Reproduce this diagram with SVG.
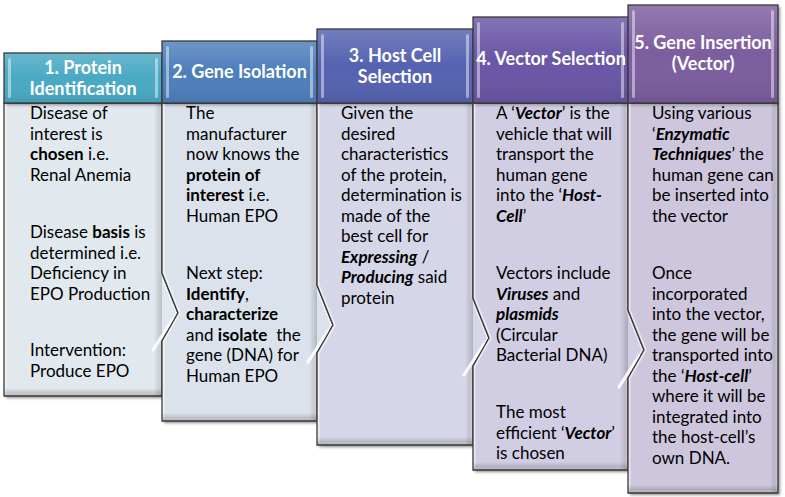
<svg xmlns="http://www.w3.org/2000/svg" xmlns:xlink="http://www.w3.org/1999/xlink" width="785" height="497" viewBox="0 0 785 497">
<defs>
<style>
.t{font-family:Lato,"Open Sans","Liberation Sans",sans-serif;font-size:17px;fill:#000}
.h{font-family:Lato,"Open Sans","Liberation Sans",sans-serif;font-size:18px;font-weight:700;fill:#fff;text-anchor:middle}
.b{font-weight:700}
.bi{font-weight:700;font-style:italic}
.edge{fill:none;stroke:#3a3a3a;stroke-width:1.3;stroke-linejoin:miter}
.inner{fill:none;stroke:#fff;stroke-width:5;opacity:.55}
.strip{fill:#fff;opacity:.45}
.shine{fill:url(#hg)}
.bot{fill:url(#bg)}
.rgt{fill:url(#rg)}
.hl{fill:none;stroke:#fff;stroke-width:3.2;stroke-linecap:round;opacity:.9;filter:url(#soft)}
.sh{filter:url(#ds)}
</style>
<filter id="ds" x="-10%" y="-10%" width="125%" height="125%">
<feDropShadow dx="2" dy="2" stdDeviation="1.5" flood-color="#000" flood-opacity="0.45"/>
</filter>
<filter id="soft" x="-50%" y="-50%" width="200%" height="200%"><feGaussianBlur stdDeviation="0.6"/></filter>
<linearGradient id="hg" x1="0" y1="0" x2="0" y2="1">
<stop offset="0" stop-color="#fff" stop-opacity="0.18"/>
<stop offset="0.5" stop-color="#fff" stop-opacity="0"/>
<stop offset="1" stop-color="#000" stop-opacity="0.08"/>
</linearGradient>
<linearGradient id="bg" x1="0" y1="0" x2="0" y2="1">
<stop offset="0" stop-color="#000" stop-opacity="0"/>
<stop offset="1" stop-color="#000" stop-opacity="0.25"/>
</linearGradient>
<linearGradient id="rg" x1="0" y1="0" x2="1" y2="0">
<stop offset="0" stop-color="#000" stop-opacity="0"/>
<stop offset="1" stop-color="#000" stop-opacity="0.18"/>
</linearGradient>
<path id="b1" d="M4,103 H162 V273 L178,313 L162,341 V396 H4 Z"/>
<path id="b2" d="M162,103 H317 V285 L333,325 L317,353 V421 H162 V341 L178,313 L162,273 Z"/>
<path id="b3" d="M317,103 H473 V298 L489,338 L473,366 V445 H317 V353 L333,325 L317,285 Z"/>
<path id="b4" d="M473,103 H628 V310 L644,350 L628,378 V470 H473 V366 L489,338 L473,298 Z"/>
<path id="b5" d="M628,103 H778 V493 H628 V378 L644,350 L628,310 Z"/>
<clipPath id="c1"><use xlink:href="#b1"/></clipPath>
<clipPath id="c2"><use xlink:href="#b2"/></clipPath>
<clipPath id="c3"><use xlink:href="#b3"/></clipPath>
<clipPath id="c4"><use xlink:href="#b4"/></clipPath>
<clipPath id="c5"><use xlink:href="#b5"/></clipPath>
</defs>
<rect width="785" height="497" fill="#fff"/>

<g id="step1">
<use xlink:href="#b1" class="sh" fill="#e2e9ee"/>
<g clip-path="url(#c1)">
<use xlink:href="#b1" class="inner"/>
<rect x="4" y="388" width="158" height="8" class="bot"/>
<rect x="154" y="103" width="8" height="293" class="rgt"/>
</g>
<use xlink:href="#b1" class="edge"/>
<polyline points="173,319 153,350" class="hl"/>
<rect x="4" y="53" width="158" height="50" fill="#4aa9c3" class="sh"/>
<rect x="4" y="53" width="158" height="50" class="shine"/>
<rect x="8" y="58" width="3" height="40" rx="1.5" class="strip"/>
<rect x="155" y="58" width="3" height="40" rx="1.5" class="strip"/>
<rect x="4" y="53" width="158" height="50" class="edge"/>
<text class="h"><tspan x="83" y="73.5">1. Protein</tspan><tspan x="83" y="94.5">Identification</tspan></text>
<text class="t">
<tspan x="30" y="119">Disease of</tspan>
<tspan x="30" y="139.5">interest is</tspan>
<tspan x="30" y="160"><tspan class="b">chosen</tspan> i.e.</tspan>
<tspan x="30" y="180.5">Renal Anemia</tspan>
<tspan x="30" y="238">Disease <tspan class="b">basis</tspan> is</tspan>
<tspan x="30" y="258.5">determined i.e.</tspan>
<tspan x="30" y="279">Deficiency in</tspan>
<tspan x="30" y="299.5">EPO Production</tspan>
<tspan x="30" y="356">Intervention:</tspan>
<tspan x="30" y="376.5">Produce EPO</tspan>
</text>
</g>

<g id="step2">
<use xlink:href="#b2" class="sh" fill="#dce2eb"/>
<g clip-path="url(#c2)">
<use xlink:href="#b2" class="inner"/>
<rect x="162" y="413" width="155" height="8" class="bot"/>
<rect x="309" y="103" width="8" height="318" class="rgt"/>
</g>
<use xlink:href="#b2" class="edge"/>
<polyline points="328,331 308,362" class="hl"/>
<rect x="162" y="41" width="155" height="62" fill="#4e7fbb" class="sh"/>
<rect x="162" y="41" width="155" height="62" class="shine"/>
<rect x="166" y="46" width="3" height="52" rx="1.5" class="strip"/>
<rect x="310" y="46" width="3" height="52" rx="1.5" class="strip"/>
<rect x="162" y="41" width="155" height="62" class="edge"/>
<text class="h"><tspan x="239.5" y="78">2. Gene Isolation</tspan></text>
<text class="t">
<tspan x="186" y="119">The</tspan>
<tspan x="186" y="139.5">manufacturer</tspan>
<tspan x="186" y="160">now knows the</tspan>
<tspan x="186" y="180.5"><tspan class="b">protein of</tspan></tspan>
<tspan x="186" y="201"><tspan class="b">interest</tspan> i.e.</tspan>
<tspan x="186" y="221.5">Human EPO</tspan>
<tspan x="186" y="279">Next step:</tspan>
<tspan x="186" y="299.5"><tspan class="b">Identify</tspan>,</tspan>
<tspan x="186" y="320"><tspan class="b">characterize</tspan></tspan>
<tspan x="186" y="340.5">and <tspan class="b">isolate</tspan>&#160; the</tspan>
<tspan x="186" y="361">gene (DNA) for</tspan>
<tspan x="186" y="381.5">Human EPO</tspan>
</text>
</g>

<g id="step3">
<use xlink:href="#b3" class="sh" fill="#d5d7e8"/>
<g clip-path="url(#c3)">
<use xlink:href="#b3" class="inner"/>
<rect x="317" y="437" width="156" height="8" class="bot"/>
<rect x="465" y="103" width="8" height="342" class="rgt"/>
</g>
<use xlink:href="#b3" class="edge"/>
<polyline points="484,344 464,375" class="hl"/>
<rect x="317" y="29" width="156" height="74" fill="#5462b0" class="sh"/>
<rect x="317" y="29" width="156" height="74" class="shine"/>
<rect x="321" y="34" width="3" height="64" rx="1.5" class="strip"/>
<rect x="466" y="34" width="3" height="64" rx="1.5" class="strip"/>
<rect x="317" y="29" width="156" height="74" class="edge"/>
<text class="h"><tspan x="395" y="61.5">3. Host Cell</tspan><tspan x="395" y="82.5">Selection</tspan></text>
<text class="t">
<tspan x="341" y="119">Given the</tspan>
<tspan x="341" y="139.5">desired</tspan>
<tspan x="341" y="160">characteristics</tspan>
<tspan x="341" y="180.5">of the protein,</tspan>
<tspan x="341" y="201">determination is</tspan>
<tspan x="341" y="221.5">made of the</tspan>
<tspan x="341" y="242">best cell for</tspan>
<tspan x="341" y="262.5"><tspan class="bi">Expressing</tspan> /</tspan>
<tspan x="341" y="283"><tspan class="bi">Producing</tspan> said</tspan>
<tspan x="341" y="303.5">protein</tspan>
</text>
</g>

<g id="step4">
<use xlink:href="#b4" class="sh" fill="#d1cde3"/>
<g clip-path="url(#c4)">
<use xlink:href="#b4" class="inner"/>
<rect x="473" y="462" width="155" height="8" class="bot"/>
<rect x="620" y="103" width="8" height="367" class="rgt"/>
</g>
<use xlink:href="#b4" class="edge"/>
<polyline points="639,356 619,387" class="hl"/>
<rect x="473" y="17" width="155" height="86" fill="#6957a6" class="sh"/>
<rect x="473" y="17" width="155" height="86" class="shine"/>
<rect x="477" y="22" width="3" height="76" rx="1.5" class="strip"/>
<rect x="621" y="22" width="3" height="76" rx="1.5" class="strip"/>
<rect x="473" y="17" width="155" height="86" class="edge"/>
<text class="h"><tspan x="551" y="64.5">4. Vector Selection</tspan></text>
<text class="t">
<tspan x="496" y="119">A ‘<tspan class="bi">Vector</tspan>’ is the</tspan>
<tspan x="496" y="139.5">vehicle that will</tspan>
<tspan x="496" y="160">transport the</tspan>
<tspan x="496" y="180.5">human gene</tspan>
<tspan x="496" y="201">into the ‘<tspan class="bi">Host-</tspan></tspan>
<tspan x="496" y="221.5"><tspan class="bi">Cell</tspan>’</tspan>
<tspan x="496" y="279">Vectors include</tspan>
<tspan x="496" y="299.5"><tspan class="bi">Viruses</tspan> and</tspan>
<tspan x="496" y="320"><tspan class="bi">plasmids</tspan></tspan>
<tspan x="496" y="340.5">(Circular</tspan>
<tspan x="496" y="361">Bacterial DNA)</tspan>
<tspan x="496" y="418">The most</tspan>
<tspan x="496" y="438.5">efficient ‘<tspan class="bi">Vector</tspan>’</tspan>
<tspan x="496" y="459">is chosen</tspan>
</text>
</g>

<g id="step5">
<use xlink:href="#b5" class="sh" fill="#cec6dc"/>
<g clip-path="url(#c5)">
<use xlink:href="#b5" class="inner"/>
<rect x="628" y="485" width="150" height="8" class="bot"/>
<rect x="770" y="103" width="8" height="390" class="rgt"/>
</g>
<use xlink:href="#b5" class="edge"/>
<rect x="628" y="5" width="150" height="98" fill="#7c5d9f" class="sh"/>
<rect x="628" y="5" width="150" height="98" class="shine"/>
<rect x="632" y="10" width="3" height="88" rx="1.5" class="strip"/>
<rect x="771" y="10" width="3" height="88" rx="1.5" class="strip"/>
<rect x="628" y="5" width="150" height="98" class="edge"/>
<text class="h"><tspan x="703" y="48.5">5. Gene Insertion</tspan><tspan x="703" y="69.5">(Vector)</tspan></text>
<text class="t">
<tspan x="652" y="119">Using various</tspan>
<tspan x="652" y="139.5">‘<tspan class="bi">Enzymatic</tspan></tspan>
<tspan x="652" y="160"><tspan class="bi">Techniques</tspan>’ the</tspan>
<tspan x="652" y="180.5">human gene can</tspan>
<tspan x="652" y="201">be inserted into</tspan>
<tspan x="652" y="221.5">the vector</tspan>
<tspan x="652" y="279">Once</tspan>
<tspan x="652" y="299.5">incorporated</tspan>
<tspan x="652" y="320">into the vector,</tspan>
<tspan x="652" y="340.5">the gene will be</tspan>
<tspan x="652" y="361">transported into</tspan>
<tspan x="652" y="381.5">the ‘<tspan class="bi">Host-cell</tspan>’</tspan>
<tspan x="652" y="402">where it will be</tspan>
<tspan x="652" y="422.5">integrated into</tspan>
<tspan x="652" y="443">the host-cell’s</tspan>
<tspan x="652" y="463.5">own DNA.</tspan>
</text>
</g>
<g id="connectors"/>
</svg>
